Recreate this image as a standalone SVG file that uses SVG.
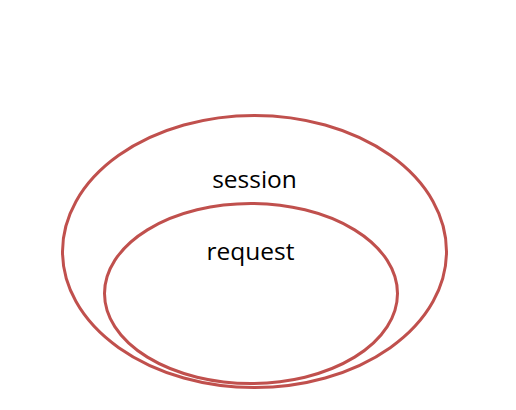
<svg xmlns="http://www.w3.org/2000/svg" width="516" height="410" viewBox="0 0 516 410">
<style>
.e{fill:none;stroke:#C0504D;stroke-width:3}
.t{font-family:"Open Sans","Liberation Sans",sans-serif;font-size:24.5px;fill:#000;text-anchor:middle}
</style>
<rect width="516" height="410" fill="#fff"/>
<g id="session">
<ellipse class="e" cx="254.5" cy="251.5" rx="192" ry="136"/>
<text class="t" x="254.5" y="188">session</text>
</g>
<g id="request">
<ellipse class="e" cx="251" cy="293.5" rx="146.5" ry="90"/>
<text class="t" x="250.5" y="260">request</text>
</g>
<g id="connectors"></g>
</svg>
